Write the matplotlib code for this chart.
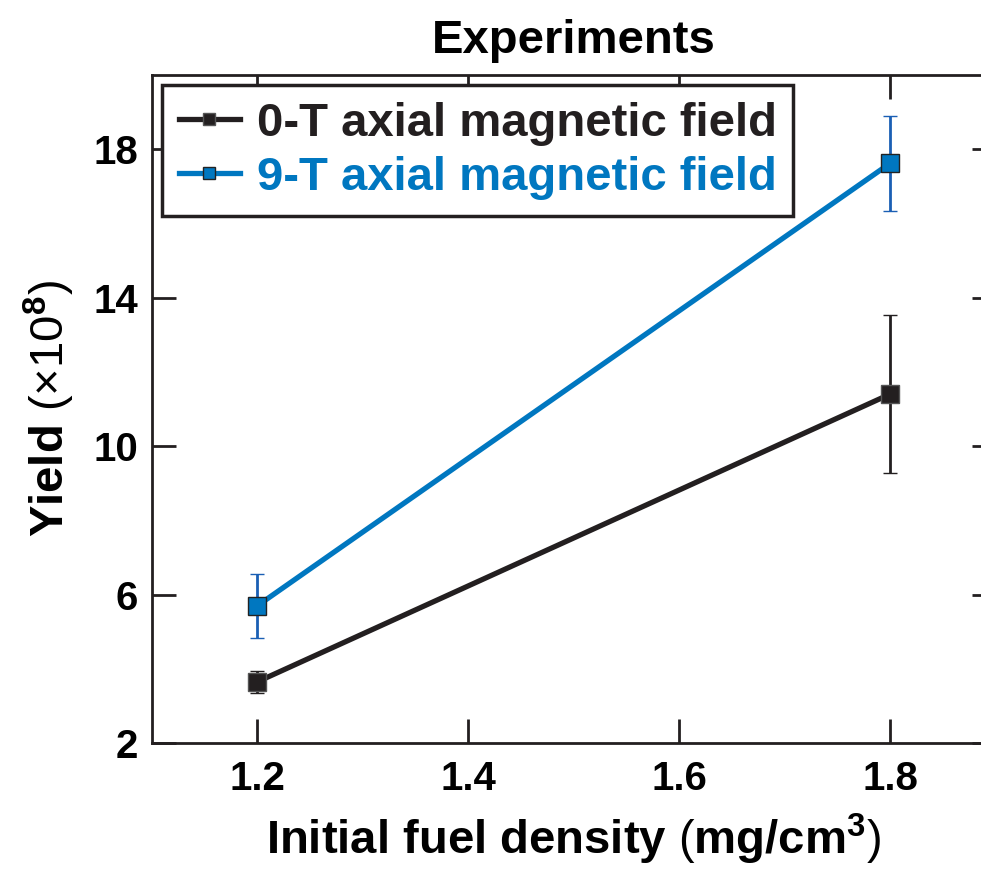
import numpy as np
import matplotlib.pyplot as plt
from matplotlib.lines import Line2D

plt.rcParams['font.family'] = ['Liberation Sans', 'DejaVu Sans']
plt.rcParams['mathtext.fontset'] = 'custom'
plt.rcParams['mathtext.rm'] = 'Liberation Sans'
plt.rcParams['mathtext.bf'] = 'Liberation Sans:bold'

# fuel density (mg/cm^3) and measured yield (x1e8)
density = [1.2, 1.8]
yield_0T = [3.65, 11.4]
err_0T = [0.3, 2.13]
yield_9T = [5.7, 17.62]
err_9T = [0.86, 1.28]
labels = ['0-T axial magnetic field', '9-T axial magnetic field']

xticks = [1.2, 1.4, 1.6, 1.8]
yticks = [2, 6, 10, 14, 18]

black = '#231f20'
blue = '#0077c0'
blue_err = '#1a5fb4'

fig = plt.figure(figsize=(9.81, 8.72), dpi=100)
ax = fig.add_axes([152/981, 1 - 743/872, (995.5 - 152)/981, (743 - 75)/872])

ax.errorbar(density, yield_0T, yerr=err_0T, color=black, lw=3.8, marker='s', ms=12.5,
            mfc=black, mec='#555555', mew=1, ecolor=black, elinewidth=2,
            capsize=5, capthick=2, zorder=3)
ax.errorbar(density, yield_9T, yerr=err_9T, color=blue, lw=3.8, marker='s', ms=12.5,
            mfc=blue, mec='#222222', mew=1, ecolor=blue_err, elinewidth=2,
            capsize=5, capthick=2, zorder=3)

ax.set_xlim(1.1, 1.9)
ax.set_ylim(2, 20)
ax.set_xticks(xticks)
ax.set_yticks(yticks)
ax.set_xticklabels(['%.1f' % v for v in xticks], fontsize=29, fontweight='bold')
ax.set_yticklabels([str(v) for v in yticks], fontsize=29, fontweight='bold')
ax.tick_params(axis='both', which='both', direction='in', length=17, width=2,
               color=black, top=True, right=True, left=True, bottom=True)
ax.tick_params(axis='x', pad=12)
ax.tick_params(axis='y', pad=10)
for s in ax.spines.values():
    s.set_linewidth(2)
    s.set_color(black)

ax.set_title('Experiments', fontsize=34, fontweight='bold', pad=16)
ax.set_xlabel(r'Initial fuel density $\mathrm{(}$mg/cm$^{\mathbf{3}}\mathrm{)}$',
              fontsize=34, fontweight='bold', labelpad=10)
ax.set_ylabel(r'Yield $\mathrm{(\times10}^{\mathbf{8}}\mathrm{)}$',
              fontsize=34, fontweight='bold', labelpad=12)

handles = [Line2D([], [], color=black, lw=3.8, marker='s', ms=9, mfc=black, mec='#555555'),
           Line2D([], [], color=blue, lw=3.8, marker='s', ms=9, mfc=blue, mec='#222222')]
leg = ax.legend(handles, labels, loc='upper left', bbox_to_anchor=(0.012, 0.985),
                prop={'weight': 'bold', 'size': 34}, frameon=True, fancybox=False,
                edgecolor=black, framealpha=1, handlelength=1.3, handletextpad=0.35,
                borderpad=0.35, labelspacing=0.22, borderaxespad=0)
leg.get_frame().set_linewidth(2.5)
for txt, c in zip(leg.get_texts(), [black, blue]):
    txt.set_color(c)

fig.savefig('out.png', dpi=100)
